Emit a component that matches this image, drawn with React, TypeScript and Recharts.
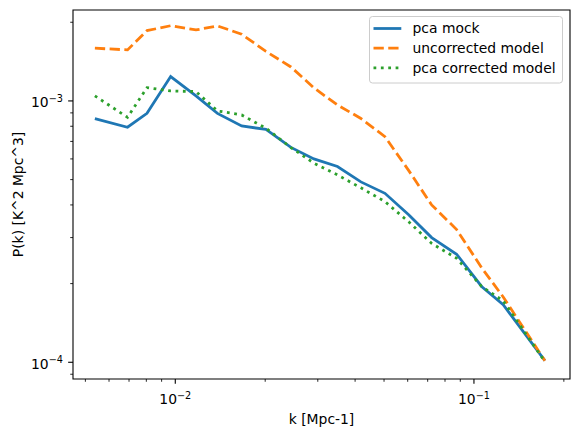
import React from 'react';
import { LineChart, Line, XAxis, YAxis, ReferenceArea, Legend } from 'recharts';

const kValues = [0.00538, 0.00692, 0.00804, 0.00965, 0.01173, 0.01384, 0.01668, 0.02012, 0.02439, 0.02912, 0.03491, 0.04183, 0.05035, 0.06058, 0.07217, 0.08751, 0.1061, 0.1253, 0.1728];
const pcaMock = [8.55e-4, 7.93e-4, 8.97e-4, 1.239e-3, 1.045e-3, 8.96e-4, 8.02e-4, 7.78e-4, 6.64e-4, 6.0e-4, 5.61e-4, 4.9e-4, 4.43e-4, 3.66e-4, 3.0e-4, 2.59e-4, 1.95e-4, 1.66e-4, 1.014e-4];
const uncorrected = [1.591e-3, 1.568e-3, 1.858e-3, 1.94e-3, 1.869e-3, 1.937e-3, 1.8e-3, 1.547e-3, 1.349e-3, 1.122e-3, 9.65e-4, 8.57e-4, 7.3e-4, 5.4e-4, 4.0e-4, 3.22e-4, 2.3e-4, 1.778e-4, 1.014e-4];
const pcaCorrected = [1.045e-3, 8.66e-4, 1.124e-3, 1.092e-3, 1.086e-3, 9.16e-4, 8.84e-4, 7.86e-4, 6.63e-4, 5.78e-4, 5.21e-4, 4.65e-4, 4.12e-4, 3.44e-4, 2.85e-4, 2.5e-4, 1.95e-4, 1.718e-4, 1.005e-4];

const seriesNames = ['pca mock', 'uncorrected model', 'pca corrected model'];
const xTicks = [0.005, 0.006, 0.007, 0.008, 0.009, 0.01, 0.02, 0.03, 0.04, 0.05, 0.06, 0.07, 0.08, 0.09, 0.1, 0.2];
const yTicks = [9e-5, 1e-4, 2e-4, 3e-4, 4e-4, 5e-4, 6e-4, 7e-4, 8e-4, 9e-4, 1e-3, 2e-3];
const xDomain = [0.004545, 0.2097];
const yDomain = [8.63e-5, 2.228e-3];

const data = kValues.map((k, i) => ({
  k,
  mock: pcaMock[i],
  uncorr: uncorrected[i],
  corr: pcaCorrected[i],
}));

const FONT = '"DejaVu Sans", sans-serif';

const isMajor = (v: number) => {
  const e = Math.log10(v);
  return Math.abs(e - Math.round(e)) < 1e-6;
};
const expLabel = (v: number) => {
  const e = Math.round(Math.log10(v));
  return e < 0 ? '\u2212' + Math.abs(e) : String(e);
};

const XTick = (props: any) => {
  const { x, y, payload } = props;
  const v = payload.value;
  const major = isMajor(v);
  return (
    <g>
      <line x1={x} x2={x} y1={y} y2={y + (major ? 4.86 : 2.78)} stroke="#000" strokeWidth={major ? 1.1 : 0.85} />
      {major && (
        <text x={x} y={y + 25} textAnchor="middle" fontFamily={FONT} fontSize={13.9} fill="#000">
          10<tspan dy={-5.5} fontSize={9.7}>{expLabel(v)}</tspan>
        </text>
      )}
    </g>
  );
};

const YTick = (props: any) => {
  const { x, y, payload } = props;
  const v = payload.value;
  const major = isMajor(v);
  return (
    <g>
      <line x1={x - (major ? 4.86 : 2.78)} x2={x} y1={y} y2={y} stroke="#000" strokeWidth={major ? 1.1 : 0.85} />
      {major && (
        <text x={x - 10} y={y + 6.5} textAnchor="end" fontFamily={FONT} fontSize={13.9} fill="#000">
          10<tspan dy={-5.5} fontSize={9.7}>{expLabel(v)}</tspan>
        </text>
      )}
    </g>
  );
};

const XLabel = (props: any) => {
  const vb = props.viewBox;
  return (
    <text x={vb.x + vb.width / 2} y={vb.y + 45} textAnchor="middle" fontFamily={FONT} fontSize={13.9} fill="#000">
      k [Mpc-1]
    </text>
  );
};

const YLabel = (props: any) => {
  const vb = props.viewBox;
  const cy = vb.y + vb.height / 2;
  return (
    <text x={22.8} y={cy} transform={`rotate(-90, 22.8, ${cy})`} textAnchor="middle" fontFamily={FONT} fontSize={13.9} fill="#000">
      P(k) [K^2 Mpc^3]
    </text>
  );
};

const styles = [
  { color: '#1f77b4', dash: undefined as string | undefined },
  { color: '#ff7f0e', dash: '10.3 4.45' },
  { color: '#2ca02c', dash: '2.78 4.59' },
];

const LegendBox = () => (
  <svg width={195} height={68} style={{ display: 'block' }}>
    <rect x={0.5} y={0.5} width={193} height={66.5} rx={3} ry={3} fill="#fff" fillOpacity={0.8} stroke="#cccccc" strokeWidth={1} />
    {seriesNames.map((name, i) => {
      const cy = 12.5 + i * 19.7;
      return (
        <g key={name}>
          <line x1={4.5} x2={32.3} y1={cy} y2={cy} stroke={styles[i].color} strokeWidth={2.78} strokeDasharray={styles[i].dash} />
          <text x={43.5} y={cy + 4.8} fontFamily={FONT} fontSize={13.9} fill="#000">{name}</text>
        </g>
      );
    })}
  </svg>
);

export default function App() {
  return (
    <div style={{ position: 'absolute', left: 0, top: 0, width: 578, height: 437, background: '#fff' }}>
      <LineChart width={578} height={437} data={data} margin={{ top: 10, right: 8, left: 0, bottom: 0 }}>
        <XAxis
          dataKey="k"
          type="number"
          scale="log"
          domain={xDomain}
          allowDataOverflow
          ticks={xTicks}
          interval={0}
          tick={<XTick />}
          tickLine={false}
          tickSize={0}
          tickMargin={0}
          axisLine={false}
          height={58}
          label={<XLabel />}
        />
        <YAxis
          type="number"
          scale="log"
          domain={yDomain}
          allowDataOverflow
          ticks={yTicks}
          interval={0}
          tick={<YTick />}
          tickLine={false}
          tickSize={0}
          tickMargin={0}
          axisLine={false}
          width={73}
          label={<YLabel />}
        />
        <Line dataKey="mock" name={seriesNames[0]} stroke={styles[0].color} strokeWidth={2.78} dot={false} isAnimationActive={false} />
        <Line dataKey="uncorr" name={seriesNames[1]} stroke={styles[1].color} strokeWidth={2.78} strokeDasharray={styles[1].dash} dot={false} isAnimationActive={false} />
        <Line dataKey="corr" name={seriesNames[2]} stroke={styles[2].color} strokeWidth={2.78} strokeDasharray={styles[2].dash} dot={false} isAnimationActive={false} />
        <ReferenceArea x1={xDomain[0]} x2={xDomain[1]} y1={yDomain[0]} y2={yDomain[1]} fill="none" stroke="#000" strokeWidth={1.1} ifOverflow="visible" />
        <Legend
          layout="horizontal"
          verticalAlign="middle"
          align="center"
          content={<LegendBox />}
          wrapperStyle={{ position: 'absolute', left: 369, top: 16, width: 195, height: 68 }}
        />
      </LineChart>
    </div>
  );
}
